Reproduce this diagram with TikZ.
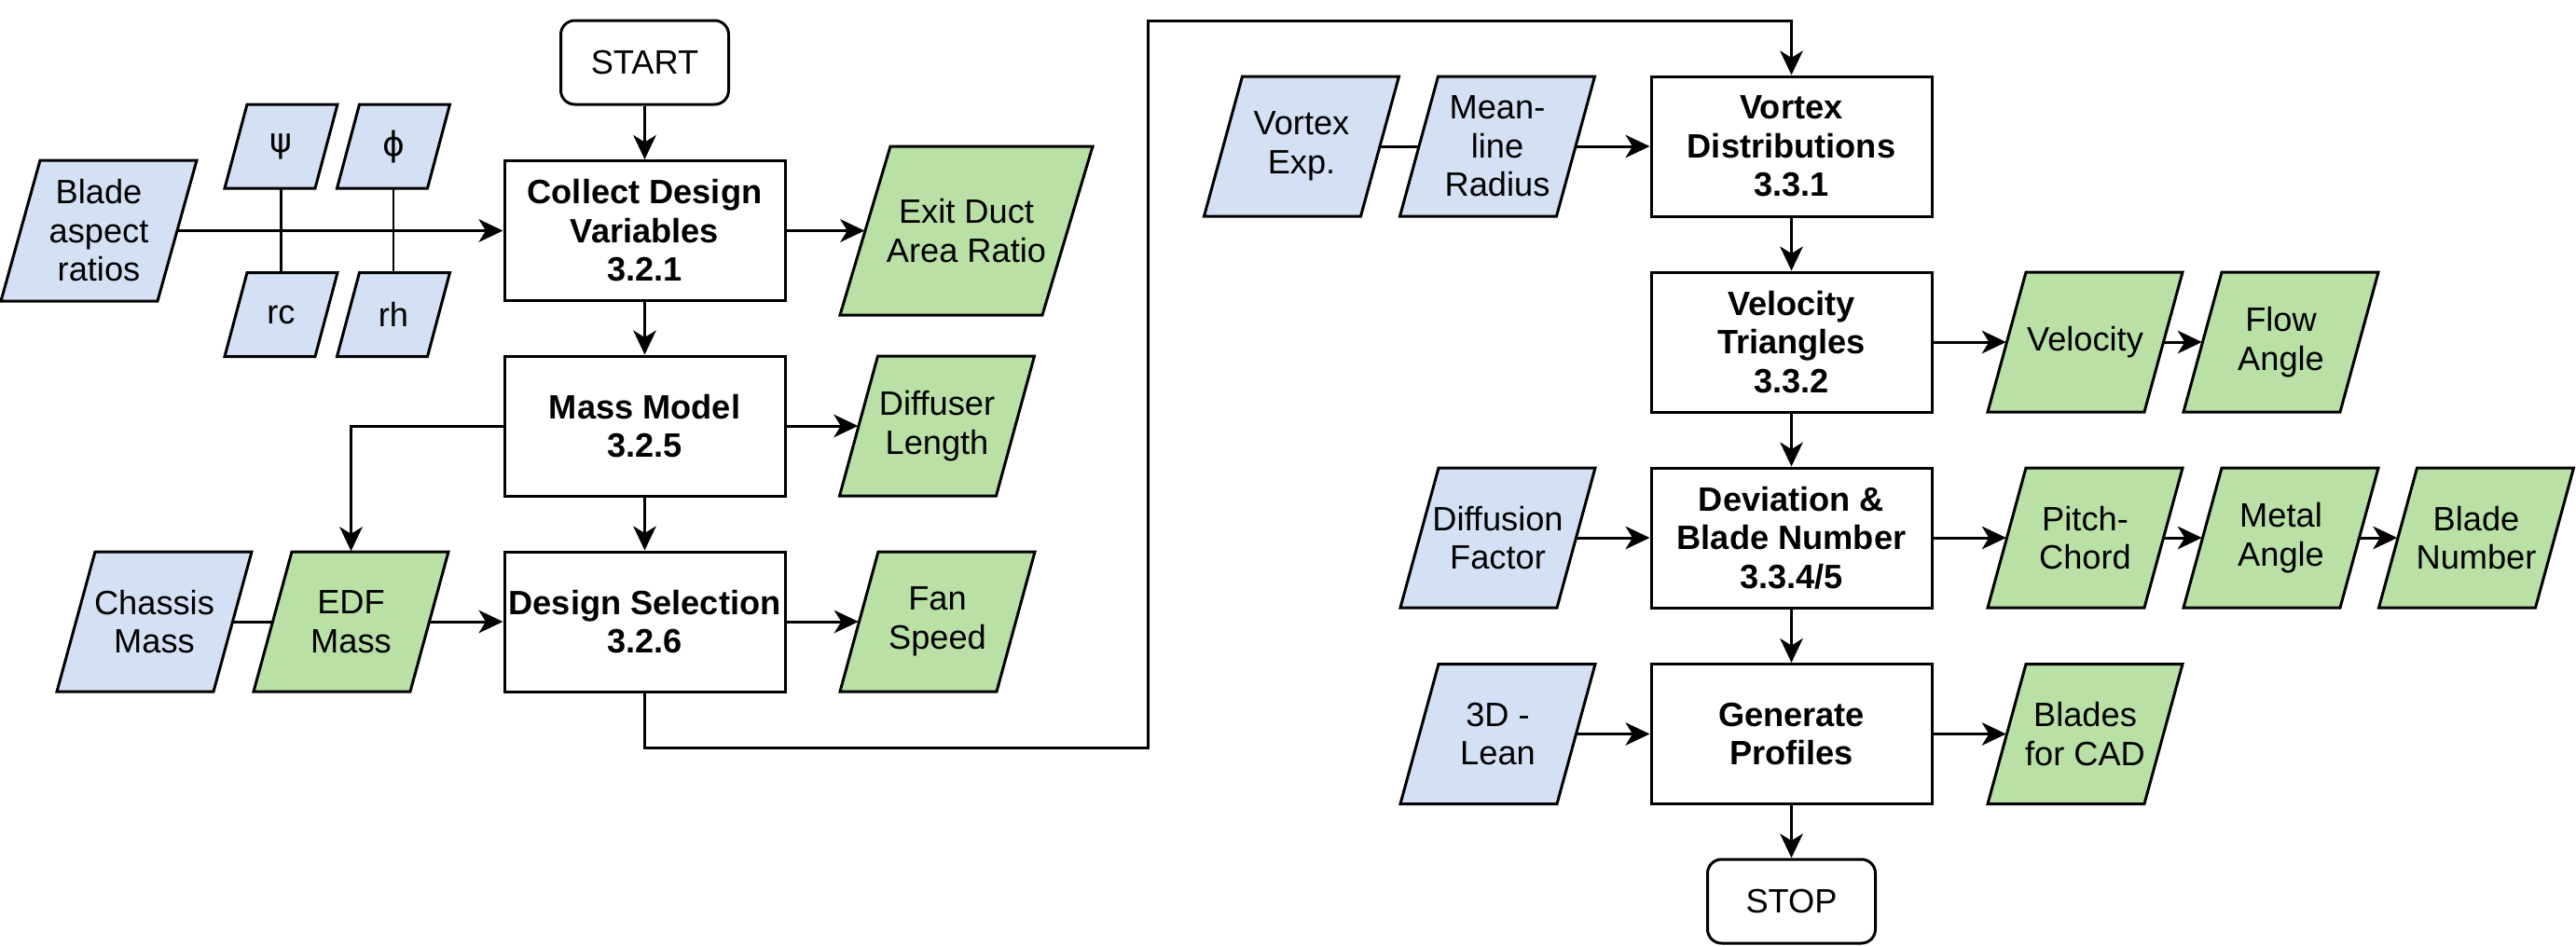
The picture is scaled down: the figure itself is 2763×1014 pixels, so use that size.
\documentclass[tikz,border=0pt]{standalone}
\usepackage{fontspec}
\setmainfont{Liberation Sans}
\newfontfamily\greekfont{DejaVu Sans}
\usetikzlibrary{arrows.meta}
\definecolor{inblue}{HTML}{D4E1F5}
\definecolor{outgreen}{HTML}{B9E0A5}
\newcommand\pxu{0.01cm}
\newcommand\fsz{\fontsize{10.3pt}{11.8pt}\selectfont}
\tikzset{
  edgew/.style={line width=0.85pt},
  procbox/.style={draw, edgew, fill=white, minimum width=301*\pxu, minimum height=150*\pxu, inner sep=0pt, align=center, font=\fsz\bfseries},
  termbox/.style={draw, edgew, rounded corners=0.15cm, minimum width=180*\pxu, minimum height=90*\pxu, inner sep=0pt, align=center, font=\fsz},
  ptext/.style={inner sep=0pt, align=center, font=\fsz},
  arr/.style={edgew, -{Stealth[length=0.26cm, width=0.245cm, inset=0.075cm]}},
  link/.style={edgew},
}
% #1 name, #2 cx, #3 cy, #4 width, #5 height, #6 skew, #7 fill, #8 text
\newcommand\paral[8]{%
  \draw[edgew, fill=#7] (#2-#4/2-#6/2, #3+#5/2) -- (#2-#4/2+#6/2, #3-#5/2)
     -- (#2+#4/2+#6/2, #3-#5/2) -- (#2+#4/2-#6/2, #3+#5/2) -- cycle;
  \node[ptext, minimum width=#4*\pxu, minimum height=#5*\pxu] (#1) at (#2,#3) {#8};
}
\begin{document}
\begin{tikzpicture}[x=0.01cm, y=-0.01cm]
\useasboundingbox (0,0) rectangle (2763,1014);

% ---------- left column ----------
\node[termbox] (start) at (691.5,67) {START};
\node[procbox] (collect) at (691.5,247.5) {Collect Design\\Variables\\3.2.1};
\node[procbox] (mass) at (691.5,457) {Mass Model\\3.2.5};
\node[procbox] (select) at (691.5,667) {Design Selection\\3.2.6};

\paral{blade}{106}{247.5}{168}{151}{42}{inblue}{Blade\\aspect\\ratios}
\paral{psi}{301.5}{157}{97}{90}{24}{inblue}{{\greekfont ψ}}
\paral{phi}{422}{157}{97}{90}{24}{inblue}{{\greekfont ϕ}}
\paral{rc}{301.5}{337.5}{97}{90}{24}{inblue}{rc}
\paral{rh}{422}{337.5}{97}{90}{24}{inblue}{rh}
\paral{exitduct}{1036.5}{247.5}{217}{181}{54}{outgreen}{Exit Duct\\Area Ratio}
\paral{diffuser}{1005}{457}{168}{150}{41}{outgreen}{Diffuser\\Length}
\paral{fanspeed}{1005.5}{667}{168}{150}{41}{outgreen}{Fan\\Speed}
\paral{chassis}{165.5}{667}{168}{150}{41}{inblue}{Chassis\\Mass}
\paral{edf}{376.5}{667}{168}{150}{41}{outgreen}{EDF\\Mass}

% ---------- right column ----------
\node[procbox] (vortexd) at (1921.5,157) {Vortex\\Distributions\\3.3.1};
\node[procbox] (veltri) at (1921.5,367) {Velocity\\Triangles\\3.3.2};
\node[procbox] (deviation) at (1921.5,577) {Deviation \&\\Blade Number\\3.3.4/5};
\node[procbox] (generate) at (1921.5,787.5) {Generate\\Profiles};
\node[termbox] (stop) at (1921.5,967) {STOP};

\paral{vortexexp}{1396}{157}{168}{150}{41}{inblue}{Vortex\\Exp.}
\paral{meanline}{1606}{157}{168}{150}{41}{inblue}{Mean-\\line\\Radius}
\paral{diffusion}{1606.5}{577}{168}{150}{41}{inblue}{Diffusion\\Factor}
\paral{lean}{1606.5}{787.5}{168}{150}{41}{inblue}{3D -\\Lean}
\paral{velocity}{2236.5}{367}{168}{150}{41}{outgreen}{Velocity}
\paral{flowangle}{2446.5}{367}{168}{150}{41}{outgreen}{Flow\\Angle}
\paral{pitch}{2236.5}{577}{168}{150}{41}{outgreen}{Pitch-\\Chord}
\paral{metal}{2446.5}{577}{168}{150}{41}{outgreen}{Metal\\Angle}
\paral{bladenum}{2656}{577}{168}{150}{41}{outgreen}{Blade\\Number}
\paral{cad}{2236.5}{787.5}{168}{150}{41}{outgreen}{Blades\\for CAD}

% ---------- connectors (left) ----------
\draw[arr] (start) -- (collect);
\draw[arr] (collect) -- (mass);
\draw[arr] (mass) -- (select);
\draw[arr] (blade.east) -- (collect.west);
\draw[link] (psi.south) -- (rc.north);
\draw[link] (phi.south) -- (rh.north);
\draw[arr] (collect.east) -- (exitduct.west);
\draw[arr] (mass.east) -- (diffuser.west);
\draw[arr] (select.east) -- (fanspeed.west);
\draw[link] (chassis.east) -- (edf.west);
\draw[arr] (edf.east) -- (select.west);
\draw[arr] (mass.west) -| (edf.north);

% ---------- long link ----------
\coordinate (bendA) at (1231,802);
\coordinate (bendB) at (1231,22);
\draw[arr] (select.south) |- (bendA) -- (bendB) -| (vortexd.north);

% ---------- connectors (right) ----------
\draw[link] (vortexexp.east) -- (meanline.west);
\draw[arr] (meanline.east) -- (vortexd.west);
\draw[arr] (vortexd) -- (veltri);
\draw[arr] (veltri) -- (deviation);
\draw[arr] (deviation) -- (generate);
\draw[arr] (generate) -- (stop);
\draw[arr] (veltri.east) -- (velocity.west);
\draw[arr] (velocity.east) -- (flowangle.west);
\draw[arr] (diffusion.east) -- (deviation.west);
\draw[arr] (deviation.east) -- (pitch.west);
\draw[arr] (pitch.east) -- (metal.west);
\draw[arr] (metal.east) -- (bladenum.west);
\draw[arr] (lean.east) -- (generate.west);
\draw[arr] (generate.east) -- (cad.west);
\end{tikzpicture}
\end{document}
